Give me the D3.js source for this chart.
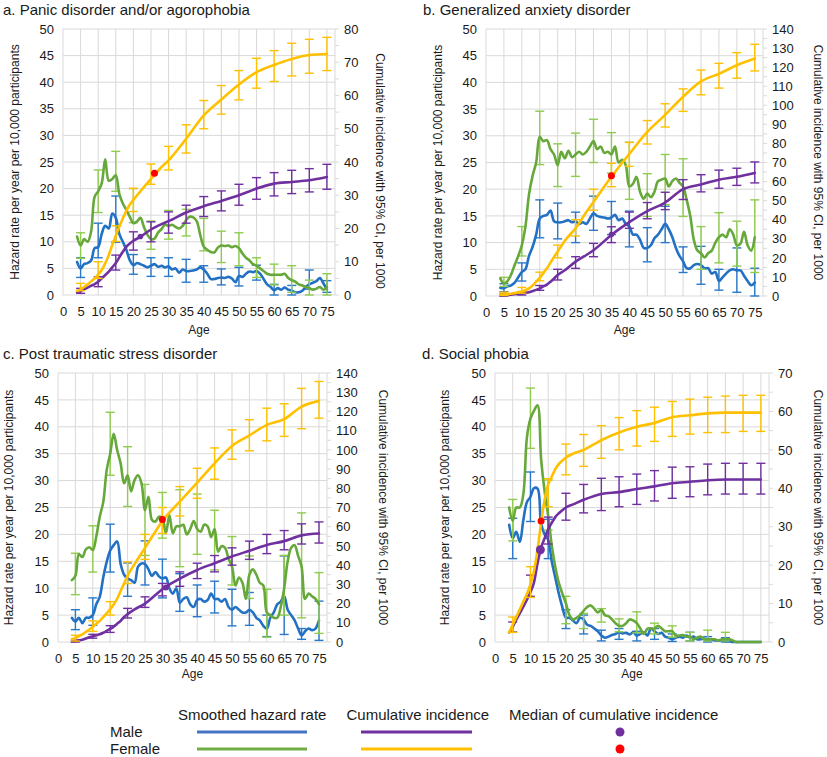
<!DOCTYPE html>
<html><head><meta charset="utf-8">
<script src="https://cdn.jsdelivr.net/npm/d3@7"></script>
<style>body{margin:0;background:#fff;} svg{display:block;}</style>
</head><body><svg id="c" width="827" height="757"></svg>
<script>
// ---------- categories / ticks ----------
const hazAges = d3.range(4, 76); // ages 4..75
const cumAges = [4,5,6,7,8,9,10,11,12,13,14,15,16,17,18,19,20,22,25,28,30,35,40,45,50,55,60,65,70,75];
const errAges = [5,10,15,20,25,30,35,40,45,50,55,60,65,70,75];
const xTicks = [0,5,10,15,20,25,30,35,40,45,50,55,60,65,70,75];
const leftTicks = [0,5,10,15,20,25,30,35,40,45,50];
const rightTicks80 = [0,10,20,30,40,50,60,70,80];
const rightTicks140 = [0,10,20,30,40,50,60,70,80,90,100,110,120,130,140];
const rightTicks70 = [0,10,20,30,40,50,60,70];

// ---------- a. Panic disorder ----------
const aMaleHaz = [6.2,5,5.8,6,6.5,8.8,9,11.5,13,12.5,15.3,14.5,11.5,10,8.5,6.5,5.6,6,5.8,5.5,5.2,5.5,5.8,5.3,5.5,5.2,5.4,4.8,5,4.2,4.8,4.5,4.5,4.6,4.8,5.2,4.8,4,3,3,3.2,3.3,3.2,3.4,3.1,2.4,3.6,3.4,4,4.4,4.3,4.5,4,3,2,1.5,0.9,1.3,1,1.4,1,0.8,0.5,0.5,0.8,1.5,2,2.3,2.6,3.2,2.2,1];
const aFemHaz = [11,9.3,10.5,10,12,18.5,19.5,21,25.5,21.5,21.8,22.5,19,17.2,16,14.7,13.5,13.8,14.5,12.8,11.3,10.5,10.6,11.7,12.4,13.2,13,13.2,12.8,12.5,13,14.1,14.7,14.6,13.9,11.3,9.1,8.5,8.1,8,8.9,9.3,9.2,9.3,9,9.2,8.8,7.8,7,6.5,5.8,5.5,5,4.5,4,3.8,3.8,3.8,3.8,4,3.2,2.8,2.5,2,1.8,1.5,1.3,1,1.2,1.5,1,1.5];
const aMaleCum = [0.8,1.2,1.7,2.2,2.8,3.3,4,5,6,7,8.3,9.6,11.3,13,14.5,15.5,16.3,17.5,19.7,21.3,22.2,24.8,26.7,28.3,30,32,33.5,34,34.5,35.5];
const aFemCum = [1.2,1.7,2.4,3.2,4.1,5,6.2,7.5,9.5,12,15,17.8,20.5,23,25.3,27.2,28.6,31.2,34.9,38.5,40.5,47,54,58.8,63.3,67,69.2,71,72.2,72.5];
const aMaleHazErr = [[3.3,7],[7,13.5],[9.9,18.6],[3.9,7.6],[3.5,7],[3.5,7],[2.4,6.7],[2.4,5.5],[1.9,4.9],[1.7,5.2],[2.8,5.6],[0,2],[0,1.8],[1.1,4.7],[0.5,2.7]];
const aFemHazErr = [[6.9,11.7],[15.5,23.5],[19.5,27],[13.6,20],[8.6,13.9],[10.5,15.9],[11.1,16.1],[8.3,14.4],[6.1,12],[5.5,11.7],[3.3,7],[1.9,5.8],[0.5,5.5],[0,2.8],[0,4]];
const aMaleCumErr = [[0.5,2],[2.5,5.5],[7.5,12],[13.5,19],[16,22],[18.6,25],[21.6,27],[23.6,29.6],[25.3,31.3],[27,33.3],[28.8,35.3],[29.8,36.8],[30.5,37.5],[31,38],[31.8,39.3]];
const aFemCumErr = [[1.3,3.5],[5,10],[16.1,20.8],[25.1,32.1],[33.3,39.4],[37.6,44.7],[42.7,51.2],[50,58.5],[54.4,63],[58.7,67.5],[62.2,71.2],[64.2,73.5],[65.9,75.7],[66.7,76.9],[67.5,77.5]];
const aMedians = [[22,17.6],[26,36.6]];

// ---------- b. Generalized anxiety disorder ----------
const bMaleHaz = [1.5,1.5,1.8,2,2.5,3.5,4.5,5,7.5,9.2,11.5,14.5,15,15.2,16,14,13.8,13.8,14,14.2,13.8,14,13.5,13.8,13.5,14.5,15.5,15,14.8,14.7,14.5,14.7,15.2,14.2,14.5,13.5,13,11.5,11.5,10.5,9,9,9.5,10.8,11.5,12.5,13.5,12.5,11,9,7.5,6.5,5.2,5.2,5.8,6,5.8,5.2,5.2,4.2,4.5,2.8,3.5,4.2,4.8,5,4.8,4.8,3.8,2.8,2,2.5];
const bFemHaz = [3.3,2.3,2.8,4,5.8,7.5,9.5,13,19,22.5,25,29.8,29,29.2,27.5,26.5,24.5,27,25.8,27.2,26,26.5,27,26.5,27,28,29,27.5,28,26.8,27,26.5,28,25,25.5,24.5,20.5,21,22.3,19.5,18.2,19.2,18.5,19.5,21.5,21.8,22,20.5,21.5,22,21.2,20.5,18,15,10.5,8.5,8,7.2,8,8.5,10,11,11.5,11,12.5,11.5,9.5,9.8,12,9.5,8.5,11];
const bMaleCum = [0.3,0.4,0.5,0.7,0.9,1.1,1.3,1.6,2,2.6,3.2,4,5,6,7.5,9.2,11,13.5,18,21.5,24,32,38.7,44.5,49,56,58.5,61,62.5,64.5];
const bFemCum = [0.7,0.8,1,1.2,1.5,1.9,2.3,3,4,5.5,7.5,9.5,12,14.5,17.5,20.5,23.3,29,35.5,44,49.3,62.5,74.5,86,95,104.5,112.5,116.5,121,124.5];
const bMaleHazErr = [[0.8,2.3],[2.8,6.2],[10.9,18],[10.7,17.4],[10,15.7],[12.3,18.7],[11.5,17.7],[9.2,15.9],[6.4,12.8],[10,16.8],[4.4,9.2],[2.2,9.3],[1.1,5],[0.7,9],[0,5.2]];
const bFemHazErr = [[1.8,3.5],[7.5,13],[24.6,34.6],[20.5,28.5],[22.4,30.5],[25,33.1],[23,30.6],[18.1,28.8],[14.9,22.9],[17.1,26.5],[14.9,25.7],[5,13],[6.2,15.6],[5.6,14],[4.4,18]];
const bMaleCumErr = [[0,1],[0.5,2.3],[3,5.5],[8.4,14],[14.5,20.6],[20.6,27.6],[28,36.3],[35.5,44],[40.5,49],[45.3,54.4],[50.6,61],[54.6,63.6],[56.5,66],[58,67],[59.3,70.3]];
const bFemCumErr = [[0.3,2],[1.5,4.5],[8,12.5],[20,26.7],[31.5,40],[45,56],[57.3,69.6],[68,80.5],[79.7,92],[88.6,100.8],[96.8,108.6],[105.5,118.5],[109,122],[114.2,127.6],[118,132]];
const bMedians = [[35,32.2],[35,63]];

// ---------- c. Post traumatic stress disorder ----------
const cMaleHaz = [4.5,3.8,4.5,3.5,4.5,4.5,5,7,8.4,12,14.9,17,18,18.7,14.5,12.5,11.8,11.5,11,14,14.6,14.5,13.5,12.3,13,12.2,11.8,12,10,9,10,7.3,8,8.3,7,6.5,7.8,8,7.5,7.8,9,8,8,7.5,8,6.5,6,6.5,6,5.5,5.5,6,5.5,4.5,4,3,2.5,4.5,5.5,7,7.5,8.5,6,5,4,2.5,1.2,2,2.5,2.2,2.5,4];
const cFemHaz = [11.5,12.3,16.3,15.8,17.2,17.6,17.1,19.6,23.3,26,32,35,38.7,35.7,33.2,29.5,31,28,30.1,31,29.5,24.5,27,22.7,22.4,23.3,23,20.2,23.6,20.2,21.5,21.5,21.8,20,21,22.5,21,20.5,21.8,21.5,19.5,21,16.8,17.8,17.5,15.5,14,10.5,12,11,8,12.5,13.5,12.5,11,10.5,5.5,5,4.5,4.5,6.5,10,15,17.5,18,16,14,8,9,8.5,8,7];
const cMaleCum = [0.3,0.5,0.8,1.2,1.8,2.5,3,3.5,4,4.8,5.8,6.8,8,9.5,11,13,14.5,17,20,24.5,27.5,33,37.5,41,44.5,47.5,50.5,52.5,55.5,56.5];
const cFemCum = [1.5,2,3,4,5.2,6.5,8,9.5,11,13,15,17,19.5,22.5,26.5,30.5,34.5,40.5,49,57.5,63,73,83,93,102,107.5,113,116,122.5,125.5];
const cMaleHazErr = [[2.3,6],[3.1,8.2],[13,21.9],[8.5,14.7],[10.6,18.8],[8.2,15.4],[5.7,12.7],[4.7,10.6],[5.4,11.3],[3,9.8],[3.1,9.2],[1,5],[1.4,16],[0.5,2.5],[0.3,7.6]];
const cFemHazErr = [[8.8,16.5],[13,21.6],[31,42.7],[25.2,36.3],[16.1,29.3],[19.3,27.8],[14,28.3],[16.3,27.5],[13.4,24.5],[10.6,19.6],[8.1,16],[0.9,9.8],[5,16.1],[4.5,24],[1.6,12.9]];
const cMaleCumErr = [[0,1],[2,4],[5,8.5],[12.5,17.5],[18,23.5],[24,30.5],[29,36.5],[33,41],[36.5,45],[40,49],[43,52.5],[46,56],[48,58],[51,61.5],[51.5,62.5]];
const cFemCumErr = [[0.5,3.5],[5.5,11],[14,21],[30.4,41.7],[43,56],[56.5,70],[65.6,80.9],[74.8,90.4],[84.7,101],[95.1,110.4],[99.5,115.7],[104.7,121.7],[107,124],[111,132],[116.5,135.6]];
const cMedians = [[31,28.3],[30,63.8]];

// ---------- d. Social phobia ----------
const dMaleHaz = [21.8,19.3,20.5,18.6,22.7,26,27,28.6,28.5,22,20,19,15,12,9,6.5,4.5,4.5,4,3.5,4.5,4.2,3.2,3,2.5,2,1.2,0.8,1,1.3,1.5,1.8,1.6,1.7,1.4,1.8,1.2,1.5,1.8,1.2,2.5,2,1.5,1.7,1,0.8,0.5,0.8,1,0.8,1.2,0.8,1,0.5,0.5,0.6,0.5,0.4,0.3,0.3,0.3,0.2,0.2,0,0,0,0,0,0,0,0,0];
const dFemHaz = [25,22.5,25,25,27.5,38,41.5,43,44,34,28,23.5,18,14,11,9,7.2,5,4.2,4.5,5,5.8,6.5,6.8,6.2,5.5,6,5,4.8,4.2,3.5,3,3,3.5,4.2,4,3.5,2.5,1.5,2.5,2.5,2.5,3,2.5,2,2,2,1.2,1.2,1.3,1,1,0.5,0.8,1,0.5,0.5,0.5,0.5,0.3,0.5,0.5,0.5,0.3,0,0,0,0,0,0,0,0];
const dMaleCum = [2.5,4,5.8,7.5,9.2,11,13,15.5,20.5,24.5,27,29.3,31,32.5,33.5,34.3,35,35.8,37,38,38.5,39,39.8,40.5,41.3,41.7,42.1,42.3,42.3,42.3];
const dFemCum = [2.5,4.5,6.5,8.5,10.5,12.5,15,18.5,24,31,37,41,43,45,46.3,47.2,48,49,50,51.5,52.5,54.5,56,57,58.5,59,59.5,59.7,59.7,59.7];
const dMaleHazErr = [[15.5,23],[22.4,31.6],[15.5,22.8],[2.5,6],[1.5,5],[0.2,2.2],[0.5,2.5],[0.2,2],[0.5,2.5],[0.1,1.5],[0.2,1.8],[0,1],[0,0.8],null,null];
const dFemHazErr = [[18.8,26.5],[36,47.2],[20.8,30.1],[3.4,8.5],[2.5,5.3],[3.7,6.2],[1.9,4.3],[1.7,5.6],[1.5,3.5],[0.9,3],[0.2,1.8],[0.2,2.2],[0.2,1.8],null,null];
const dMaleCumErr = [[2.6,5.2],[11.9,17.4],[25.5,32.5],[31.7,38.7],[33.6,41],[34.2,42.6],[35.2,43],[35.8,43.7],[36.7,44.6],[37.4,45.5],[37.8,45.6],[38.3,46.3],[38.5,46.5],[38.5,46.5],[38.5,46.5]];
const dFemCumErr = [[2.5,6.5],[11.6,19.6],[35.2,42.5],[43.5,51.5],[45.7,54],[47.8,56.3],[50,58.4],[51,60.2],[52.2,61.1],[53.5,62.6],[54.1,63.2],[54.5,63.7],[54.5,64],[54.8,64.2],[54.8,64.2]];
const dMedians = [[12.8,24],[13,31.5]];

// ---------- styling ----------
const FONT = '"Liberation Sans", Arial, Helvetica, sans-serif';
const C = {
  blue: '#2271c4', blueErr: '#2a78c8',
  green: '#67a83b', greenErr: '#8fcc4e',
  purple: '#7030a0', yellow: '#ffc000', red: '#ff0000',
  legBlue: '#4472c4', legGreen: '#70ad47', grid: '#d9d9d9', text: '#1a1a1a'
};

const panels = [
  {title: 'a. Panic disorder and/or agorophobia', left: 63, right: 335, top: 29, bottom: 295,
   titleX: 3, titleY: 14.5, lTitleX: 15, rTitleX: 380, rTitleShift: 9, ageY: 334, rTicks: rightTicks80,
   mh: aMaleHaz, fh: aFemHaz, mc: aMaleCum, fc: aFemCum, mhe: aMaleHazErr, fhe: aFemHazErr, mce: aMaleCumErr, fce: aFemCumErr, med: aMedians, mR: 2.8},
  {title: 'b. Generalized anxiety disorder', left: 486, right: 763, top: 29, bottom: 296,
   titleX: 423, titleY: 14.5, lTitleX: 438, rTitleX: 818, rTitleShift: 0, ageY: 334, rTicks: rightTicks140,
   mh: bMaleHaz, fh: bFemHaz, mc: bMaleCum, fc: bFemCum, mhe: bMaleHazErr, fhe: bFemHazErr, mce: bMaleCumErr, fce: bFemCumErr, med: bMedians, mR: 2.8},
  {title: 'c. Post traumatic stress disorder', left: 58, right: 327, top: 373, bottom: 642,
   titleX: 3, titleY: 359, lTitleX: 9, rTitleX: 383, rTitleShift: 0, ageY: 678, rTicks: rightTicks140,
   mh: cMaleHaz, fh: cFemHaz, mc: cMaleCum, fc: cFemCum, mhe: cMaleHazErr, fhe: cFemHazErr, mce: cMaleCumErr, fce: cFemCumErr, med: cMedians, mR: 3},
  {title: 'd. Social phobia', left: 495, right: 769, top: 373, bottom: 642,
   titleX: 422, titleY: 359, lTitleX: 445, rTitleX: 818, rTitleShift: 0, ageY: 678, rTicks: rightTicks70,
   mh: dMaleHaz, fh: dFemHaz, mc: dMaleCum, fc: dFemCum, mhe: dMaleHazErr, fhe: dFemHazErr, mce: dMaleCumErr, fce: dFemCumErr, med: dMedians, mR: 4.5}
];

const svg = d3.select('#c').attr('font-family', FONT);

function drawPanel(p) {
  const rMax = p.rTicks[p.rTicks.length - 1];
  const x = d3.scaleLinear().domain([0, 77.3]).range([p.left, p.right]);
  const yL = d3.scaleLinear().domain([0, 50]).range([p.bottom, p.top]);
  const yR = d3.scaleLinear().domain([0, rMax]).range([p.bottom, p.top]);
  const g = svg.append('g');

  // gridlines
  const grid = g.append('g').attr('stroke', C.grid).attr('stroke-width', 1);
  grid.selectAll('line.h').data(leftTicks).join('line').attr('class', 'h')
    .attr('x1', p.left).attr('x2', p.right).attr('y1', d => yL(d)).attr('y2', d => yL(d));
  grid.selectAll('line.v').data(xTicks).join('line').attr('class', 'v')
    .attr('x1', d => x(d)).attr('x2', d => x(d)).attr('y1', p.top).attr('y2', p.bottom);
  grid.append('line').attr('x1', p.right).attr('x2', p.right).attr('y1', p.top).attr('y2', p.bottom);
  // minor ticks on right axis
  const step = p.rTicks[1] - p.rTicks[0];
  const rMinor = p.rTicks.flatMap(t => t < rMax ? [t, t + step / 2] : [t]);
  grid.selectAll('line.rt').data(rMinor).join('line').attr('class', 'rt')
    .attr('x1', p.right).attr('x2', p.right + 4).attr('y1', d => yR(d)).attr('y2', d => yR(d));

  // axes (labels only)
  const styleAxis = (sel, size) => {
    sel.select('.domain').remove();
    sel.attr('font-family', FONT).attr('font-size', size);
    sel.selectAll('text').attr('fill', C.text);
  };
  g.append('g').attr('transform', `translate(${p.left},0)`)
    .call(d3.axisLeft(yL).tickValues(leftTicks).tickSize(0).tickPadding(9))
    .call(s => styleAxis(s, 13));
  g.append('g').attr('transform', `translate(${p.right},0)`)
    .call(d3.axisRight(yR).tickValues(p.rTicks).tickSize(0).tickPadding(9))
    .call(s => styleAxis(s, 13));
  g.append('g').attr('transform', `translate(0,${p.bottom})`)
    .call(d3.axisBottom(x).tickValues(xTicks).tickSize(0).tickPadding(12))
    .call(s => styleAxis(s, 13));

  // titles
  g.append('text').attr('x', p.titleX).attr('y', p.titleY).attr('font-size', 15).attr('fill', C.text).text(p.title);
  const midY = (p.top + p.bottom) / 2;
  g.append('text').attr('transform', `translate(${p.lTitleX},${midY}) rotate(-90)`)
    .attr('text-anchor', 'middle').attr('dominant-baseline', 'central').attr('font-size', 12).attr('fill', C.text)
    .text('Hazard rate per year per 10,000 participants');
  g.append('text').attr('transform', `translate(${p.rTitleX},${midY + p.rTitleShift}) rotate(90)`)
    .attr('text-anchor', 'middle').attr('dominant-baseline', 'central').attr('font-size', 12).attr('fill', C.text)
    .text('Cumulative incidence with 95% CI, per 1000');
  g.append('text').attr('x', (p.left + p.right) / 2).attr('y', p.ageY).attr('text-anchor', 'middle')
    .attr('font-size', 12).attr('fill', C.text).text('Age');

  // error bars
  function errBars(errs, y, color) {
    const eg = g.append('g').attr('stroke', color).attr('stroke-width', 1.4).attr('fill', 'none');
    const data = errAges.map((a, i) => ({a, e: errs[i]})).filter(d => d.e);
    eg.selectAll('line.s').data(data).join('line').attr('class', 's')
      .attr('x1', d => x(d.a)).attr('x2', d => x(d.a)).attr('y1', d => y(d.e[0])).attr('y2', d => y(d.e[1]));
    eg.selectAll('line.lo').data(data).join('line').attr('class', 'lo')
      .attr('x1', d => x(d.a) - 4.5).attr('x2', d => x(d.a) + 4.5).attr('y1', d => y(d.e[0])).attr('y2', d => y(d.e[0]));
    eg.selectAll('line.hi').data(data).join('line').attr('class', 'hi')
      .attr('x1', d => x(d.a) - 4.5).attr('x2', d => x(d.a) + 4.5).attr('y1', d => y(d.e[1])).attr('y2', d => y(d.e[1]));
  }
  function line(ages, vals, y, color, curve) {
    const gen = d3.line().x(d => x(d[0])).y(d => y(d[1])).curve(curve);
    g.append('path').datum(ages.map((a, i) => [a, vals[i]]))
      .attr('d', gen).attr('fill', 'none').attr('stroke', color).attr('stroke-width', 2.6)
      .attr('stroke-linejoin', 'round').attr('stroke-linecap', 'round');
  }
  errBars(p.mhe, yL, C.blueErr);
  line(hazAges, p.mh, yL, C.blue, d3.curveCatmullRom);
  errBars(p.fhe, yL, C.greenErr);
  line(hazAges, p.fh, yL, C.green, d3.curveCatmullRom);
  errBars(p.mce, yR, C.purple);
  line(cumAges, p.mc, yR, C.purple, d3.curveMonotoneX);
  errBars(p.fce, yR, C.yellow);
  line(cumAges, p.fc, yR, C.yellow, d3.curveMonotoneX);

  // medians
  g.append('circle').attr('cx', x(p.med[0][0])).attr('cy', yR(p.med[0][1])).attr('r', p.mR).attr('fill', C.purple);
  g.append('circle').attr('cx', x(p.med[1][0])).attr('cy', yR(p.med[1][1])).attr('r', 3.5).attr('fill', C.red);
}
panels.forEach(drawPanel);

// ---------- legend ----------
const legendHeads = ['Smoothed hazard rate', 'Cumulative incidence', 'Median of cumulative incidence'];
const legendRows = ['Male', 'Female'];
const lg = svg.append('g').attr('font-size', 15).attr('fill', C.text);
const headX = [178, 346.5, 509];
lg.selectAll('text.h').data(legendHeads).join('text').attr('class', 'h')
  .attr('x', (d, i) => headX[i]).attr('y', 720).text(d => d);
lg.selectAll('text.r').data(legendRows).join('text').attr('class', 'r')
  .attr('x', 110).attr('y', (d, i) => 737 + i * 17).text(d => d);
const rowY = [732, 749];
const legLines = [
  {x1: 197, x2: 307, y: rowY[0], c: C.legBlue}, {x1: 197, x2: 307, y: rowY[1], c: C.legGreen},
  {x1: 361, x2: 472, y: rowY[0], c: C.purple}, {x1: 361, x2: 472, y: rowY[1], c: C.yellow}
];
lg.selectAll('line').data(legLines).join('line')
  .attr('x1', d => d.x1).attr('x2', d => d.x2).attr('y1', d => d.y).attr('y2', d => d.y)
  .attr('stroke', d => d.c).attr('stroke-width', 3);
lg.selectAll('circle').data([C.purple, C.red]).join('circle')
  .attr('cx', 620).attr('cy', (d, i) => rowY[i]).attr('r', 4.5).attr('fill', d => d);
</script></body></html>
